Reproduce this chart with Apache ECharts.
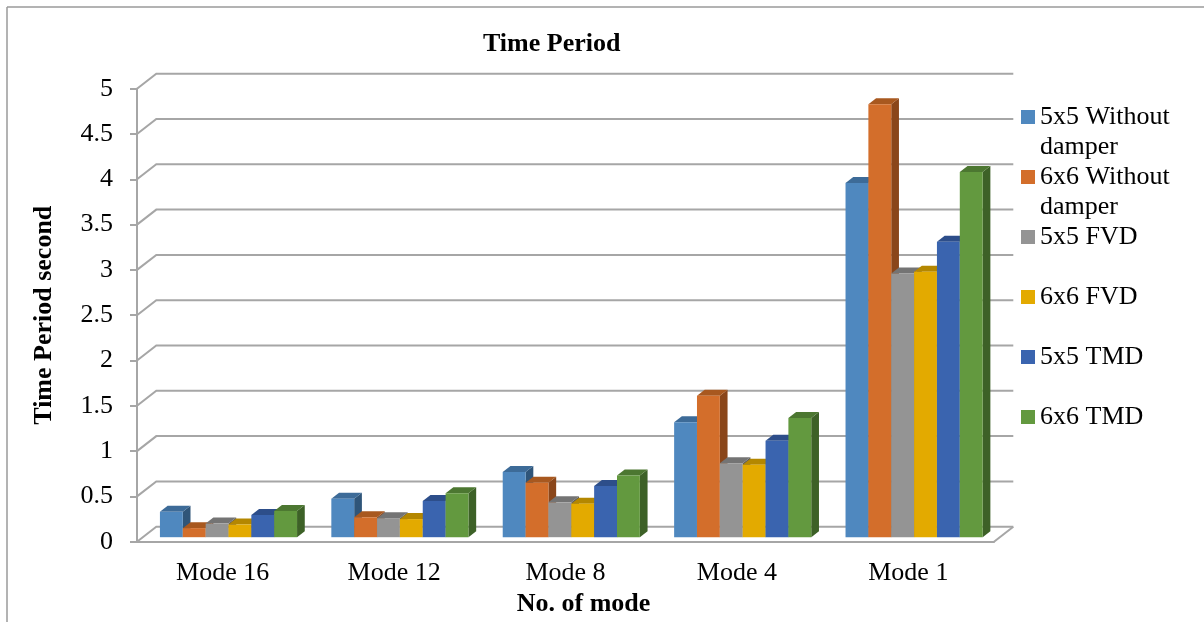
<!DOCTYPE html>
<html>
<head>
<meta charset="utf-8">
<title>Time Period</title>
<script src="https://cdn.jsdelivr.net/npm/echarts@6/dist/echarts.min.js"></script>
<style>
  html, body { margin: 0; padding: 0; background: #ffffff; }
  #chart { width: 1204px; height: 622px; }
</style>
</head>
<body>
<div id="chart"></div>
<script>
// Categories (modes) along the horizontal axis
const modes = ['Mode 16', 'Mode 12', 'Mode 8', 'Mode 4', 'Mode 1'];

// Series names
const seriesNames = [
  '5x5 Without damper',
  '6x6 Without damper',
  '5x5 FVD',
  '6x6 FVD',
  '5x5 TMD',
  '6x6 TMD'
];

// Time period (s) per mode, one array per series
const without5x5 = [0.28, 0.425, 0.72, 1.27, 3.91];
const without6x6 = [0.10, 0.22, 0.60, 1.56, 4.78];
const fvd5x5     = [0.15, 0.21, 0.385, 0.815, 2.91];
const fvd6x6     = [0.14, 0.20, 0.37, 0.80, 2.93];
const tmd5x5     = [0.245, 0.40, 0.565, 1.065, 3.26];
const tmd6x6     = [0.29, 0.485, 0.68, 1.315, 4.03];

// Value-axis ticks
const yTicks = [0, 0.5, 1, 1.5, 2, 2.5, 3, 3.5, 4, 4.5, 5];

const seriesValues = [without5x5, without6x6, fvd5x5, fvd6x6, tmd5x5, tmd6x6];

// Face colours for each series: front, top, side
const faceColors = [
  ['#4F88BF', '#3D6B98', '#2F5579'],
  ['#D36E2B', '#A8581F', '#8A461A'],
  ['#949494', '#747474', '#5E5E5E'],
  ['#E3AA00', '#B48700', '#8F6B00'],
  ['#3A64AF', '#2D4E8A', '#243F70'],
  ['#63993F', '#4C7731', '#3D6127']
];

// Oblique projection of the depth axis (pixels for the full floor depth)
const DEPTH_X = 19.3;
const DEPTH_Y = 15;
// Bars sit between these fractions of the depth
const BAR_FRONT = 0.3;
const BAR_BACK = 0.7;
const GROUP_RATIO = 0.8;

const FONT = '"Liberation Serif", "Times New Roman", serif';
const LINE_COLOR = '#a6a6a6';

// Walls: back-wall gridlines, left-wall diagonals and the floor edge
function renderWall(params, api) {
  const cs = params.coordSys;
  const v = api.value(1);
  const y = api.coord([0, v])[1];
  const x0 = cs.x, x1 = cs.x + cs.width;
  const children = [{
    type: 'polyline',
    shape: { points: [[x0, y], [x0 + DEPTH_X, y - DEPTH_Y], [x1 + DEPTH_X, y - DEPTH_Y]] },
    style: { stroke: LINE_COLOR, lineWidth: 2, fill: null }
  }];
  if (v === 0) {
    children.push({
      type: 'line',
      shape: { x1: x1, y1: y, x2: x1 + DEPTH_X, y2: y - DEPTH_Y },
      style: { stroke: LINE_COLOR, lineWidth: 2 }
    });
  }
  return { type: 'group', children: children };
}

// A 3D column: front face, top face and right side face
function makeBarRenderer(k) {
  const cols = faceColors[k];
  return function (params, api) {
    const ci = api.value(0);
    const v = api.value(1);
    const base = api.coord([ci, 0]);
    const top = api.coord([ci, v]);
    const band = api.size([1, 0])[0];
    const gw = band * GROUP_RATIO;
    const bw = gw / seriesNames.length;
    const fx = base[0] - gw / 2 + k * bw + BAR_FRONT * DEPTH_X;
    const fb = base[1] - BAR_FRONT * DEPTH_Y;
    const ft = top[1] - BAR_FRONT * DEPTH_Y;
    const ddx = (BAR_BACK - BAR_FRONT) * DEPTH_X;
    const ddy = (BAR_BACK - BAR_FRONT) * DEPTH_Y;
    return {
      type: 'group',
      children: [
        {
          type: 'polygon',
          shape: { points: [[fx + bw, ft], [fx + bw + ddx, ft - ddy], [fx + bw + ddx, fb - ddy], [fx + bw, fb]] },
          style: { fill: cols[2] }
        },
        {
          type: 'polygon',
          shape: { points: [[fx, ft], [fx + ddx, ft - ddy], [fx + bw + ddx, ft - ddy], [fx + bw, ft]] },
          style: { fill: cols[1] }
        },
        {
          type: 'rect',
          shape: { x: fx, y: ft, width: bw, height: fb - ft },
          style: { fill: cols[0] }
        }
      ]
    };
  };
}

const series = [{
  name: 'walls',
  type: 'custom',
  silent: true,
  renderItem: renderWall,
  encode: { x: 0, y: 1 },
  data: yTicks.map(function (v) { return [0, v]; }),
  z: 1
}];

seriesNames.forEach(function (name, k) {
  series.push({
    name: name,
    type: 'custom',
    renderItem: makeBarRenderer(k),
    encode: { x: 0, y: 1 },
    itemStyle: { color: faceColors[k][0] },
    data: seriesValues[k].map(function (v, i) { return [i, v]; }),
    z: 2
  });
});

const chart = echarts.init(document.getElementById('chart'), null, { renderer: 'canvas' });

chart.setOption({
  animation: false,
  backgroundColor: '#ffffff',
  textStyle: { fontFamily: FONT, color: '#000' },
  title: {
    text: 'Time Period',
    left: 483,
    top: 31,
    padding: 0,
    textStyle: { fontFamily: FONT, fontSize: 26, fontWeight: 'bold', color: '#000' }
  },
  legend: {
    data: seriesNames,
    orient: 'vertical',
    left: 1021,
    top: 72,
    padding: 0,
    itemGap: -30,
    itemWidth: 14,
    itemHeight: 14,
    icon: 'rect',
    formatter: function (name) {
      const parts = name.split(' damper');
      const label = parts.length > 1 ? parts[0] + '\ndamper' : name;
      // first line sits level with the marker
      return parts.length > 1 ? ' \n' + label : ' \n' + label + '\n ';
    },
    textStyle: { fontFamily: FONT, fontSize: 26, color: '#000', lineHeight: 30 }
  },
  grid: {
    left: 137,
    right: 210,
    top: 88.7,
    bottom: 80.3,
    containLabel: false,
    outerBoundsMode: 'none'
  },
  xAxis: {
    type: 'category',
    data: modes,
    boundaryGap: true,
    name: 'No. of mode',
    nameLocation: 'middle',
    nameGap: 50,
    nameTextStyle: { fontFamily: FONT, fontSize: 26, fontWeight: 'bold', color: '#000', padding: [0, 0, 0, 36] },
    axisLine: { show: true, lineStyle: { color: LINE_COLOR, width: 2 } },
    axisTick: { show: false },
    axisLabel: { fontFamily: FONT, fontSize: 26, color: '#000', margin: 18 },
    splitLine: { show: false }
  },
  yAxis: {
    type: 'value',
    min: 0,
    max: 5,
    interval: 0.5,
    name: 'Time Period second',
    nameLocation: 'middle',
    nameGap: 80,
    nameTextStyle: { fontFamily: FONT, fontSize: 26, fontWeight: 'bold', color: '#000' },
    axisLine: { show: true, lineStyle: { color: LINE_COLOR, width: 2 } },
    axisTick: { show: true, length: 7, lineStyle: { color: LINE_COLOR, width: 2 } },
    axisLabel: {
      fontFamily: FONT, fontSize: 26, color: '#000', margin: 24,
      padding: [4, 0, 0, 0],
      formatter: function (v) { return String(v); }
    },
    splitLine: { show: false }
  },
  graphic: [
    { type: 'line', shape: { x1: 7, y1: 7, x2: 1204, y2: 7 }, style: { stroke: '#9a9a9a', lineWidth: 1.5 }, silent: true },
    { type: 'line', shape: { x1: 7, y1: 7, x2: 7, y2: 622 }, style: { stroke: '#9a9a9a', lineWidth: 1.5 }, silent: true }
  ],
  series: series
});
</script>
</body>
</html>
